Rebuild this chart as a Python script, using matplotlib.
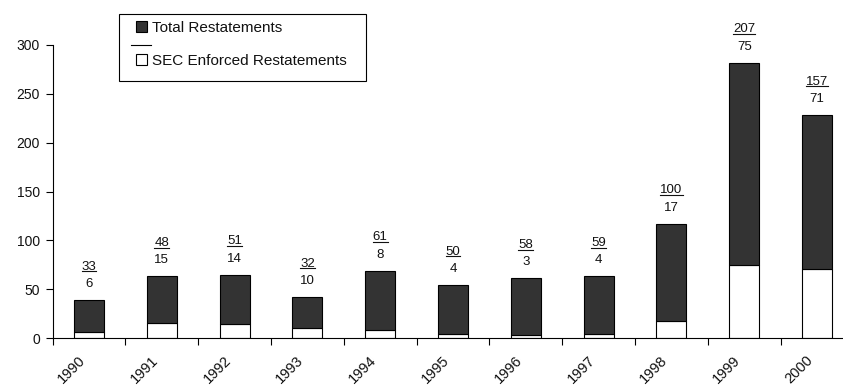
import matplotlib.pyplot as plt
from matplotlib.lines import Line2D
from matplotlib.patches import Rectangle
from matplotlib.transforms import ScaledTranslation
import numpy as np

plt.rcParams['font.family'] = ['Liberation Sans', 'DejaVu Sans']

# restatement counts per year
years = ['1990', '1991', '1992', '1993', '1994', '1995', '1996', '1997', '1998', '1999', '2000']
total_restatements = [33, 48, 51, 32, 61, 50, 58, 59, 100, 207, 157]
sec_enforced = [6, 15, 14, 10, 8, 4, 3, 4, 17, 75, 71]

W, H = 843, 390
fig = plt.figure(figsize=(W / 100, H / 100), dpi=100)
ax = fig.add_axes([52.6 / W, 52 / H, (W - 52.6) / W, 293 / H])

x = np.arange(len(years))
bw = 0.41
ax.bar(x, sec_enforced, bw, color='white', edgecolor='black', linewidth=0.8,
       label='SEC Enforced Restatements')
ax.bar(x, total_restatements, bw, bottom=sec_enforced, color='#333333',
       edgecolor='black', linewidth=0.8, label='Total Restatements')

txt_color = '#111111'

# value labels: total (underlined) over SEC count
top_labels = []
for xi, t, s in zip(x, total_restatements, sec_enforced):
    top = t + s
    ax.annotate(str(s), (xi, top), xytext=(0, 11.5), textcoords='offset points',
                ha='center', va='center', fontsize=9.5, color=txt_color)
    top_labels.append(ax.annotate(str(t), (xi, top), xytext=(0, 24),
                                  textcoords='offset points', ha='center',
                                  va='center', fontsize=9.5, color=txt_color,
                                  annotation_clip=False))

ax.set_xlim(-0.5, (W - 52.6) / 72.8 - 0.5)
ax.set_ylim(0, 300)
ax.set_yticks(range(0, 301, 50))
ax.set_xticks(x - 0.5, minor=False)
ax.set_xticklabels([])
ax.set_xticks(x, minor=True)
ax.set_xticklabels(years, minor=True, rotation=45, ha='right', va='top',
                   rotation_mode='anchor', fontsize=10.5, color=txt_color)
ax.tick_params(axis='x', which='minor', length=0, pad=11)
ax.tick_params(axis='x', which='major', length=5, width=0.8, direction='out')
ax.tick_params(axis='y', length=5, width=0.8, direction='out', labelsize=10,
               labelcolor=txt_color, pad=4)
shift = ScaledTranslation(-11 / 100, 0, fig.dpi_scale_trans)
for lbl in ax.get_xticklabels(minor=True):
    lbl.set_transform(lbl.get_transform() + shift)

for side in ['top', 'right']:
    ax.spines[side].set_visible(False)
for side in ['left', 'bottom']:
    ax.spines[side].set_linewidth(0.8)

# legend with a plain black frame
handles, labels = ax.get_legend_handles_labels()
leg = fig.legend(handles[::-1], labels[::-1], loc='upper left',
                 bbox_to_anchor=(136 / W, 1 - 21 / H), frameon=False,
                 fontsize=11, handlelength=0.72, handleheight=0.72,
                 handletextpad=0.35, labelspacing=1.25, borderpad=0,
                 borderaxespad=0)
for txt in leg.get_texts():
    txt.set_color(txt_color)
fig.add_artist(Rectangle((119 / W, 1 - 81 / H), 247 / W, 67 / H, fill=False,
                         edgecolor='black', linewidth=0.8,
                         transform=fig.transFigure))

# short rule above the SEC marker in the legend
fig.add_artist(Line2D([131 / W, 151 / W], [1 - 45 / H, 1 - 45 / H],
                      color='black', linewidth=0.8))

# underline the total counts
fig.canvas.draw()
renderer = fig.canvas.get_renderer()
for txt in top_labels:
    bb = txt.get_window_extent(renderer)
    y = bb.y0 + 1.5
    fig.add_artist(Line2D([bb.x0 / W, bb.x1 / W], [y / H, y / H],
                          color=txt_color, linewidth=0.8))

fig.savefig('out.png', dpi=100)
